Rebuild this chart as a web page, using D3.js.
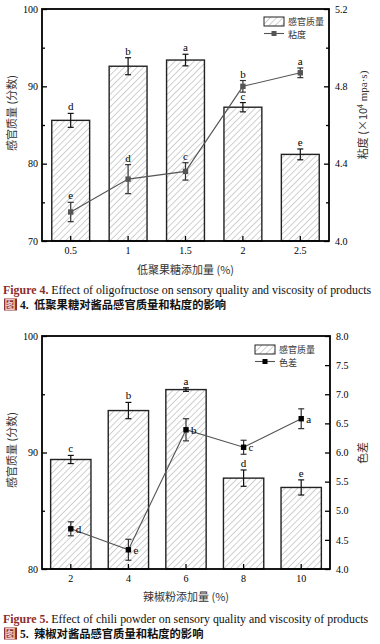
<!DOCTYPE html>
<html>
<head>
<meta charset="utf-8">
<script src="https://cdn.jsdelivr.net/npm/d3@7"></script>
<style>
  body { margin: 0; background: #fff; }
  svg { display: block; }
</style>
</head>
<body>
<svg id="chart" width="380" height="644"></svg>
<script>
// *** Data ***

// Figure 4: oligofructose
var sugarLevels = ["0.5", "1", "1.5", "2", "2.5"];
var sugarScore = [85.6, 92.6, 93.4, 87.3, 81.2];
var sugarScoreErr = [0.9, 1.1, 0.75, 0.6, 0.7];
var sugarScoreLetters = ["d", "b", "a", "c", "e"];
var sugarViscosity = [4.15, 4.32, 4.36, 4.80, 4.87];
var sugarViscosityErr = [0.05, 0.075, 0.045, 0.03, 0.025];
var sugarViscosityLetters = ["e", "d", "c", "b", "a"];
var sugarLeftTicks = [70, 80, 90, 100];
var sugarRightTicks = [4.0, 4.4, 4.8, 5.2];

// Figure 5: chili powder
var chiliLevels = ["2", "4", "6", "8", "10"];
var chiliScore = [89.4, 93.6, 95.4, 87.8, 87.0];
var chiliScoreErr = [0.35, 0.7, 0.15, 0.7, 0.65];
var chiliScoreLetters = ["c", "b", "a", "d", "e"];
var chiliColor = [4.69, 4.33, 6.39, 6.09, 6.58];
var chiliColorErr = [0.12, 0.18, 0.19, 0.12, 0.17];
var chiliColorLetters = ["d", "e", "b", "c", "a"];
var chiliLeftTicks = [80, 90, 100];
var chiliRightTicks = [4.0, 4.5, 5.0, 5.5, 6.0, 6.5, 7.0, 7.5, 8.0];

var serif = "'Liberation Serif', 'Times New Roman', serif";
var cjk = "'Noto Sans CJK SC', sans-serif";

var svg = d3.select("#chart");

// hatch pattern for the bars
var defs = svg.append("defs");
defs.append("pattern")
    .attr("id", "hatch")
    .attr("patternUnits", "userSpaceOnUse")
    .attr("width", 4.5)
    .attr("height", 4.5)
    .attr("patternTransform", "rotate(45)")
  .append("line")
    .attr("x1", 0).attr("y1", 0)
    .attr("x2", 0).attr("y2", 4.5)
    .attr("stroke", "#8a8a8a")
    .attr("stroke-width", 0.8);

// *** Chart drawing ***

function draw_chart(cfg) {
  var w = cfg.width, h = cfg.height;
  var g = svg.append("g")
      .attr("transform", "translate(" + cfg.left + "," + cfg.top + ")");

  var x = d3.scaleBand().domain(cfg.cats).range([0, w])
      .paddingInner(cfg.padIn).paddingOuter(cfg.padOut);
  var yL = d3.scaleLinear().domain(cfg.leftDomain).range([h, 0]);
  var yR = d3.scaleLinear().domain(cfg.rightDomain).range([h, 0]);

  var rows = cfg.cats.map(function (c, i) {
    return {cat: c, score: cfg.score[i], scoreErr: cfg.scoreErr[i], scoreLetter: cfg.scoreLetters[i],
            line: cfg.line[i], lineErr: cfg.lineErr[i], lineLetter: cfg.lineLetters[i]};
  });

  // bars
  g.selectAll(".bar").data(rows).enter().append("rect")
      .attr("class", "bar")
      .attr("x", d => x(d.cat))
      .attr("y", d => yL(d.score))
      .attr("width", x.bandwidth())
      .attr("height", d => h - yL(d.score))
      .attr("fill", "url(#hatch)")
      .attr("stroke", "#222")
      .attr("stroke-width", 1.4);

  // error bars helper
  function errbars(sel, yScale, val, err, color) {
    sel.each(function (d) {
      var cx = x(d.cat) + x.bandwidth() / 2;
      var y1 = yScale(val(d) + err(d)), y2 = yScale(val(d) - err(d));
      var e = d3.select(this);
      e.append("line").attr("x1", cx).attr("x2", cx).attr("y1", y1).attr("y2", y2);
      e.append("line").attr("x1", cx - 3).attr("x2", cx + 3).attr("y1", y1).attr("y2", y1);
      e.append("line").attr("x1", cx - 3).attr("x2", cx + 3).attr("y1", y2).attr("y2", y2);
    }).attr("stroke", color).attr("stroke-width", 1.2);
  }

  g.selectAll(".berr").data(rows).enter().append("g").attr("class", "berr")
      .call(errbars, yL, d => d.score, d => d.scoreErr, "#111");

  g.selectAll(".blab").data(rows).enter().append("text")
      .attr("x", d => x(d.cat) + x.bandwidth() / 2)
      .attr("y", d => yL(d.score + d.scoreErr) - 3)
      .attr("text-anchor", "middle")
      .attr("font-family", serif).attr("font-size", 11)
      .text(d => d.scoreLetter);

  // line series
  var lineMaker = d3.line()
      .x(d => x(d.cat) + x.bandwidth() / 2)
      .y(d => yR(d.line));
  g.append("path").attr("d", lineMaker(rows))
      .attr("fill", "none").attr("stroke", "#555").attr("stroke-width", 1.1);

  g.selectAll(".lerr").data(rows).enter().append("g").attr("class", "lerr")
      .call(errbars, yR, d => d.line, d => d.lineErr, "#333");

  g.selectAll(".mark").data(rows).enter().append("rect")
      .attr("x", d => x(d.cat) + x.bandwidth() / 2 - 2.7)
      .attr("y", d => yR(d.line) - 2.7)
      .attr("width", 5.4).attr("height", 5.4)
      .attr("fill", cfg.markColor);

  g.selectAll(".llab").data(rows).enter().append("text")
      .attr("x", d => x(d.cat) + x.bandwidth() / 2 + (cfg.lineLabelRight ? 5 : 0))
      .attr("y", d => cfg.lineLabelRight ? yR(d.line) + 4 : yR(d.line + d.lineErr) - 3)
      .attr("text-anchor", cfg.lineLabelRight ? "start" : "middle")
      .attr("font-family", serif).attr("font-size", 11)
      .text(d => d.lineLetter);

  // axes
  function style_axis(a) {
    a.select(".domain").remove();
    a.selectAll("line").attr("stroke", "#000").attr("stroke-width", 1.3);
    a.selectAll("text").attr("font-family", serif).attr("font-size", 10).attr("fill", "#000");
  }

  g.append("g").call(d3.axisLeft(yL).tickValues(cfg.leftMinor).tickSize(-3).tickFormat(""))
      .call(style_axis);
  g.append("g").call(d3.axisLeft(yL).tickValues(cfg.leftTicks).tickSize(-5).tickPadding(4).tickFormat(d3.format("d")))
      .call(style_axis);

  g.append("g").attr("transform", "translate(" + w + ",0)")
      .call(d3.axisRight(yR).tickValues(cfg.rightMinor).tickSize(-3).tickFormat(""))
      .call(style_axis);
  g.append("g").attr("transform", "translate(" + w + ",0)")
      .call(d3.axisRight(yR).tickValues(cfg.rightTicks).tickSize(-5).tickPadding(6).tickFormat(d3.format(".1f")))
      .call(style_axis);

  g.append("g").attr("transform", "translate(0," + h + ")")
      .call(d3.axisBottom(x).tickSize(-5).tickPadding(6))
      .call(style_axis);

  // frame
  g.append("rect").attr("width", w).attr("height", h)
      .attr("fill", "none").attr("stroke", "#000").attr("stroke-width", 1.8);

  // axis titles
  g.append("text")
      .attr("transform", "translate(" + cfg.leftTitleX + "," + cfg.leftTitleY + ") rotate(-90)")
      .attr("text-anchor", "middle")
      .attr("font-family", cjk).attr("font-size", 11).attr("fill", "#333")
      .text("感官质量 (分数)");

  var rt = g.append("text")
      .attr("transform", "translate(" + cfg.rightTitleX + "," + cfg.rightTitleY + ") rotate(-90)")
      .attr("text-anchor", "middle")
      .attr("font-family", cjk).attr("font-size", 11).attr("fill", "#333");
  cfg.rightTitle(rt);

  g.append("text")
      .attr("x", w / 2).attr("y", cfg.xTitleY)
      .attr("text-anchor", "middle")
      .attr("font-family", cjk).attr("font-size", 11).attr("fill", "#333")
      .text(cfg.xTitle);

  // legend
  var lg = g.append("g").attr("transform", "translate(" + cfg.legendX + "," + cfg.legendY + ")");
  lg.append("rect").attr("width", 20).attr("height", 9)
      .attr("fill", "url(#hatch)").attr("stroke", "#222").attr("stroke-width", 1);
  lg.append("text").attr("x", 24).attr("y", 8)
      .attr("font-family", cjk).attr("font-size", 9).attr("fill", "#333").text("感官质量");
  lg.append("line").attr("x1", 0).attr("x2", 20).attr("y1", 16.5).attr("y2", 16.5)
      .attr("stroke", "#555").attr("stroke-width", 1.1);
  lg.append("rect").attr("x", 7.5).attr("y", 14).attr("width", 5).attr("height", 5)
      .attr("fill", cfg.markColor);
  lg.append("text").attr("x", 24).attr("y", 20.5)
      .attr("font-family", cjk).attr("font-size", 9).attr("fill", "#333").text(cfg.lineName);

  // captions
  var cap = svg.append("text")
      .attr("x", 3).attr("y", cfg.captionY)
      .attr("font-family", serif).attr("font-size", 11.9);
  cap.append("tspan").attr("font-weight", "bold").attr("fill", "#8b2d2d").text(cfg.figLabel + " ");
  cap.append("tspan").attr("fill", "#111").text(cfg.captionEn);

  var zhY = cfg.captionY + 15;
  svg.append("rect").attr("x", 4).attr("y", zhY - 10.5)
      .attr("width", 13).attr("height", 12).attr("fill", "#8b2d2d");
  svg.append("text").attr("x", 4.5).attr("y", zhY)
      .attr("font-family", cjk).attr("font-weight", "bold").attr("font-size", 11)
      .attr("fill", "#e8c8c8").text("图");
  svg.append("text").attr("x", 20).attr("y", zhY)
      .attr("font-family", serif).attr("font-weight", "bold").attr("font-size", 11.5)
      .attr("fill", "#111").text(cfg.figNum + ".");
  svg.append("text").attr("x", 34).attr("y", zhY)
      .attr("font-family", cjk).attr("font-weight", "bold").attr("font-size", 11.3)
      .attr("fill", "#111").text(cfg.captionZh);
}

draw_chart({
  left: 42, top: 9, width: 287, height: 232,
  cats: sugarLevels, padIn: 0.34, padOut: 0.17,
  score: sugarScore, scoreErr: sugarScoreErr, scoreLetters: sugarScoreLetters,
  line: sugarViscosity, lineErr: sugarViscosityErr, lineLetters: sugarViscosityLetters,
  leftDomain: [70, 100], leftTicks: sugarLeftTicks, leftMinor: [75, 85, 95],
  rightDomain: [4.0, 5.2], rightTicks: sugarRightTicks, rightMinor: [4.2, 4.6, 5.0],
  markColor: "#555", lineLabelRight: false,
  leftTitleX: -26, leftTitleY: 104,
  rightTitleX: 325, rightTitleY: 106,
  rightTitle: function (t) {
    t.append("tspan").text("粘度 (×10");
    t.append("tspan").attr("font-size", 7).attr("dy", -4).text("4");
    t.append("tspan").attr("dy", 4).attr("font-family", serif).text(" mpa·s)");
  },
  xTitle: "低聚果糖添加量 (%)", xTitleY: 265,
  legendX: 222, legendY: 8, lineName: "粘度",
  captionY: 294, figLabel: "Figure 4.", figNum: "4",
  captionEn: "Effect of oligofructose on sensory quality and viscosity of products",
  captionZh: "低聚果糖对酱品感官质量和粘度的影响"
});

draw_chart({
  left: 42, top: 336, width: 288, height: 233,
  cats: chiliLevels, padIn: 0.3, padOut: 0.15,
  score: chiliScore, scoreErr: chiliScoreErr, scoreLetters: chiliScoreLetters,
  line: chiliColor, lineErr: chiliColorErr, lineLetters: chiliColorLetters,
  leftDomain: [80, 100], leftTicks: chiliLeftTicks, leftMinor: [85, 95],
  rightDomain: [4.0, 8.0], rightTicks: chiliRightTicks, rightMinor: [],
  markColor: "#000", lineLabelRight: true,
  leftTitleX: -26, leftTitleY: 114,
  rightTitleX: 325, rightTitleY: 117,
  rightTitle: function (t) { t.text("色差"); },
  xTitle: "辣椒粉添加量 (%)", xTitleY: 265,
  legendX: 213, legendY: 9, lineName: "色差",
  captionY: 623, figLabel: "Figure 5.", figNum: "5",
  captionEn: "Effect of chili powder on sensory quality and viscosity of products",
  captionZh: "辣椒对酱品感官质量和粘度的影响"
});
</script>
</body>
</html>
